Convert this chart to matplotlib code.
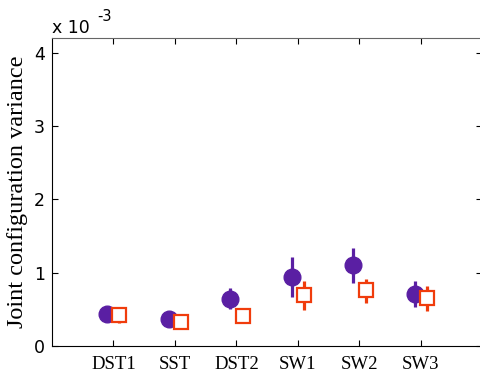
import matplotlib.pyplot as plt
import numpy as np

tasks = ["DST1", "SST", "DST2", "SW1", "SW2", "SW3"]

# values in units of 1e-3
circ_mean = [0.43, 0.37, 0.64, 0.94, 1.10, 0.71]
circ_lo = [0.39, 0.34, 0.50, 0.67, 0.86, 0.53]
circ_hi = [0.47, 0.40, 0.79, 1.21, 1.33, 0.88]

sq_mean = [0.42, 0.33, 0.41, 0.69, 0.76, 0.65]
sq_lo = [0.31, 0.30, 0.31, 0.49, 0.59, 0.48]
sq_hi = [0.53, 0.41, 0.52, 0.88, 0.91, 0.82]

purple = "#5a1fa3"
orange = "#f03c0c"

fig = plt.figure(figsize=(4.8, 3.76), dpi=100)
ax = fig.add_axes([0.108, 0.08, 0.897, 0.819])

x = np.arange(1, len(tasks) + 1)
cm = np.array(circ_mean)
sm = np.array(sq_mean)

ax.errorbar(x - 0.1, cm, yerr=[cm - np.array(circ_lo), np.array(circ_hi) - cm],
            fmt="o", color=purple, ms=12, elinewidth=2.3, capsize=0, zorder=3)
ax.errorbar(x + 0.1, sm, yerr=[sm - np.array(sq_lo), np.array(sq_hi) - sm],
            fmt="s", color=orange, mfc="white", mec=orange, mew=1.6, ms=9.5,
            elinewidth=2.3, capsize=0, zorder=4)

ax.set_xlim(0, 7)
ax.set_ylim(0, 4.2)
ax.set_xticks(x)
ax.set_xticklabels(tasks, family="Liberation Serif", fontsize=13.5)
ax.set_yticks([0, 1, 2, 3, 4])
ax.set_yticklabels(["0", "1", "2", "3", "4"], family="DejaVu Sans", fontsize=12.5)
ax.tick_params(direction="in", top=True, right=True, length=4, width=0.8)
ax.tick_params(axis="x", pad=7)
ax.tick_params(axis="y", pad=5)
ax.set_ylabel("Joint configuration variance", family="Liberation Serif", fontsize=17.5, labelpad=4)

ax.spines["top"].set_color("#666666")
ax.spines["right"].set_visible(False)
for s in ["left", "bottom"]:
    ax.spines[s].set_color("black")

fig.text(0.108, 0.902, "x 10", family="DejaVu Sans", fontsize=12.5, va="bottom")
fig.text(0.203, 0.937, "-3", family="DejaVu Sans", fontsize=10.5, va="bottom")

fig.savefig("out.png", dpi=100)
